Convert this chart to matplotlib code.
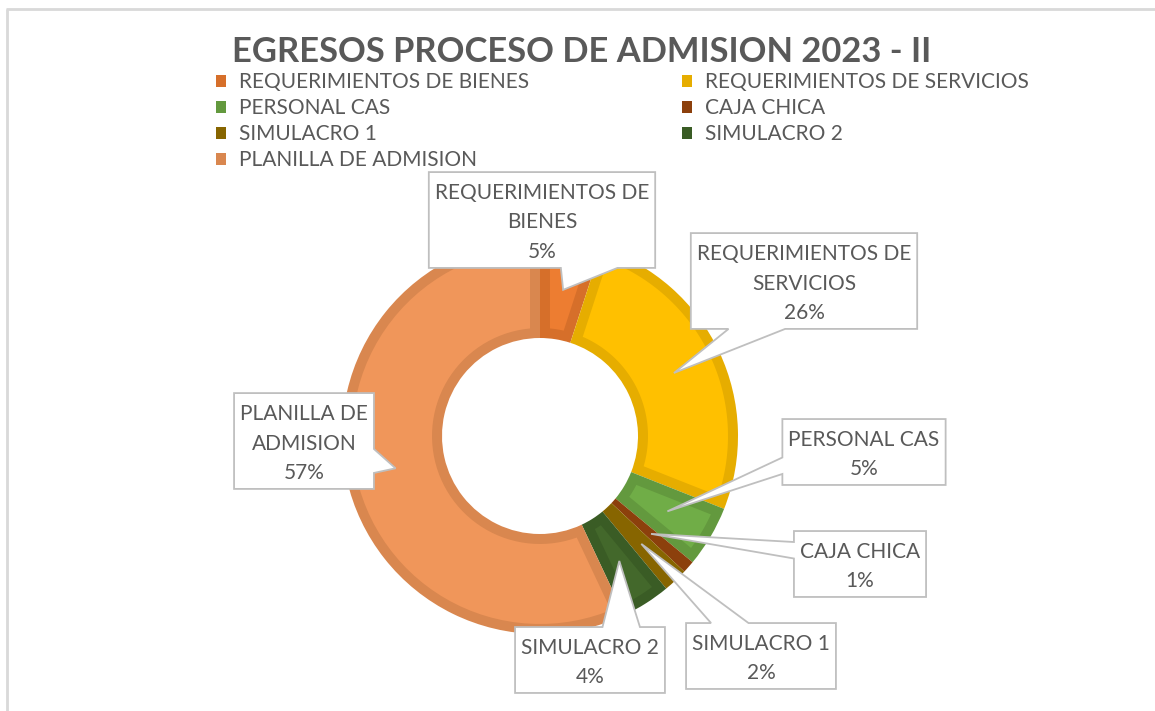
import matplotlib.pyplot as plt
import numpy as np
from matplotlib.patches import Patch, Polygon

# data
categories = [
    "REQUERIMIENTOS DE BIENES",
    "REQUERIMIENTOS DE SERVICIOS",
    "PERSONAL CAS",
    "CAJA CHICA",
    "SIMULACRO 1",
    "SIMULACRO 2",
    "PLANILLA DE ADMISION",
]
shares = [5, 26, 5, 1, 2, 4, 57]
label_names = [
    "REQUERIMIENTOS DE\nBIENES",
    "REQUERIMIENTOS DE\nSERVICIOS",
    "PERSONAL CAS",
    "CAJA CHICA",
    "SIMULACRO 1",
    "SIMULACRO 2",
    "PLANILLA DE\nADMISION",
]

fills = ["#ED7D31", "#FFC000", "#70AD47", "#9E480E", "#997300", "#43682B", "#F0965A"]
edges = ["#D66F2A", "#E6AD00", "#63993E", "#8C400C", "#876500", "#3A5C25", "#D9874F"]

W, H = 1155, 711
CENTER = (540, 436)
R_OUT, R_IN = 198, 98
BORDER = 10  # px, darker rim inside each slice
TEXT_C = "#595959"
BOX_EC = "#BFBFBF"
FONT = ["Lato", "DejaVu Sans"]
FS = 15
LS = 1.62
PX = 72 / 100  # points per pixel

# label box centres (layout)
box_centers = [(542, 220), (804, 281), (864, 452), (860, 564), (761, 656), (590, 660), (304, 441)]
TEXT_DROP = 2.5  # text sits a little below the box centre

fig = plt.figure(figsize=(W / 100, H / 100), dpi=100)
ax = fig.add_axes([0, 0, 1, 1])

# full slices in the rim colour
wedges, _ = ax.pie(
    shares,
    colors=edges,
    startangle=-90,
    counterclock=True,
    radius=R_OUT,
    center=CENTER,
    wedgeprops=dict(width=R_OUT - R_IN, linewidth=0),
)


def inset_slice(w, b):
    # region of the slice lying at least b px away from every edge
    t1, t2 = np.deg2rad(w.theta1), np.deg2rad(w.theta2)
    half = (t2 - t1) / 2
    ro = w.r - b
    ri = max(w.r - w.width + b, b / np.sin(half))
    if ri >= ro - 1:
        return None
    do, di = np.arcsin(b / ro), np.arcsin(min(1.0, b / ri))
    a_out = np.linspace(t1 + do, t2 - do, 60)
    a_in = np.linspace(t2 - di, t1 + di, 60)
    cx, cy = w.center
    xs = np.r_[cx + ro * np.cos(a_out), cx + ri * np.cos(a_in)]
    ys = np.r_[cy + ro * np.sin(a_out), cy + ri * np.sin(a_in)]
    return np.column_stack([xs, ys])


for w, fc in zip(wedges, fills):
    pts = inset_slice(w, BORDER)
    if pts is not None:
        ax.add_patch(Polygon(pts, closed=True, facecolor=fc, edgecolor="none", zorder=w.get_zorder() + 0.1))

ax.set_xlim(0, W)
ax.set_ylim(H, 0)
ax.set_aspect("auto")
ax.axis("off")

# chart frame (only top and left edges visible in the crop)
ax.plot([6, W], [9, 9], color="#D9D9D9", lw=2.8 * PX, solid_capstyle="butt")
ax.plot([7, 7], [9, H], color="#D9D9D9", lw=2.8 * PX, solid_capstyle="butt")

fig.text(582 / W, 1 - 52 / H, "EGRESOS PROCESO DE ADMISION 2023 - II", ha="center", va="center",
         fontsize=24.8, fontweight="bold", color=TEXT_C, family=FONT)

# legend, filled column-wise so it reads row-wise like the original
order = [0, 2, 4, 6, 1, 3, 5]
handles = [Patch(facecolor=edges[i], edgecolor="none", label=categories[i]) for i in order]
leg = ax.legend(handles=handles, ncol=2, loc="upper left", bbox_to_anchor=(216, 72),
                bbox_transform=ax.transData, frameon=False, borderpad=0, borderaxespad=0,
                handlelength=0.5, handleheight=0.5, handletextpad=0.6, columnspacing=7.33,
                labelspacing=0.29, prop=dict(family=FONT, size=FS))
for t in leg.get_texts():
    t.set_color(TEXT_C)

# data labels with callout boxes
texts = []
for name, val, pos in zip(label_names, shares, box_centers):
    t = ax.text(pos[0], pos[1] + TEXT_DROP, f"{name}\n{val}%", ha="center", va="center",
                multialignment="center", fontsize=FS, color=TEXT_C, family=FONT,
                linespacing=LS, zorder=6)
    texts.append(t)

fig.canvas.draw()
renderer = fig.canvas.get_renderer()
inv = ax.transData.inverted()


def callout(text, tip, padx=6.0, pad_top=10.5, pad_bottom=5.5):
    bb = text.get_window_extent(renderer)
    (xa, ya), (xb, yb) = inv.transform([[bb.x0, bb.y0], [bb.x1, bb.y1]])
    left, right = min(xa, xb) - padx, max(xa, xb) + padx
    top, bottom = min(ya, yb) - pad_top, max(ya, yb) + pad_bottom
    w, h = right - left, bottom - top
    cx, cy = (left + right) / 2, (top + bottom) / 2
    dx, dy = (tip[0] - cx) / w, (tip[1] - cy) / h
    if abs(dy) >= abs(dx):
        f0, f1 = (7 / 12, 5 / 6) if dx > 0 else (1 / 6, 5 / 12)
        if dy < 0:
            verts = [(left, top), (left + f0 * w, top), tip, (left + f1 * w, top),
                     (right, top), (right, bottom), (left, bottom)]
        else:
            verts = [(left, top), (right, top), (right, bottom), (left + f1 * w, bottom), tip,
                     (left + f0 * w, bottom), (left, bottom)]
    else:
        f0, f1 = (7 / 12, 5 / 6) if dy > 0 else (1 / 6, 5 / 12)
        if dx > 0:
            verts = [(left, top), (right, top), (right, top + f0 * h), tip, (right, top + f1 * h),
                     (right, bottom), (left, bottom)]
        else:
            verts = [(left, top), (right, top), (right, bottom), (left, bottom),
                     (left, top + f1 * h), tip, (left, top + f0 * h)]
    ax.add_patch(Polygon(verts, closed=True, facecolor="white", edgecolor=BOX_EC,
                         lw=1.3, joinstyle="miter", zorder=5))


r_mid = (R_OUT + R_IN) / 2
for w, t in zip(wedges, texts):
    ang = np.deg2rad((w.theta1 + w.theta2) / 2)
    tip = (w.center[0] + r_mid * np.cos(ang), w.center[1] + r_mid * np.sin(ang))
    callout(t, tip)

fig.savefig("out.png", dpi=100)
